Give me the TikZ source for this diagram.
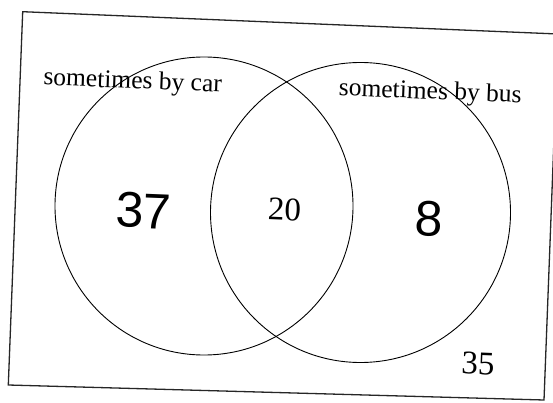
\documentclass[tikz,border=0pt]{standalone}
\usepackage{fontspec}
\setmainfont{Liberation Serif}
\setsansfont{Liberation Sans}
\usetikzlibrary{positioning}

\begin{document}
\begin{tikzpicture}[
  x=1pt, y=-1pt,
  frame/.style={line width=1.3pt, black!85},
  ring/.style={line width=0.9pt},
  setlabel/.style={font=\fontsize{25.5}{30}\selectfont, anchor=base, rotate=-2.3, inner sep=0pt},
  count/.style={font=\fontsize{33}{38}\selectfont, anchor=base, rotate=-2.3, inner sep=0pt},
  hand/.style={font=\sffamily\fontsize{50}{56}\selectfont, anchor=base, rotate=-2.3, inner sep=0pt},
]
\useasboundingbox (0,0) rectangle (553,403);

% universal set (scanned, slightly tilted)
\coordinate (tl) at (22.7,11.7);
\coordinate (tr) at (558,34);
\coordinate (br) at (544,400);
\coordinate (bl) at (8.3,385);
\draw[frame] (tl) -- (tr) -- (br) -- (bl) -- cycle;

% the two sets
\coordinate (car) at (204,206);
\coordinate (bus) at (360.5,212.5);
\draw[ring] (car) circle[radius=149pt];
\draw[ring] (bus) circle[radius=150pt];

\node[setlabel] (carlabel) at (132.4,88.5) {sometimes by car};
\node[setlabel] (buslabel) at (430,99) {sometimes by bus};

\node[hand] (onlycar) at (143,228) {37};
\node[count] (both) at (284,220) {20};
\node[hand] (onlybus) at (428,236) {8};
\node[count] (neither) at (477.7,374) {35};
\end{tikzpicture}
\end{document}
